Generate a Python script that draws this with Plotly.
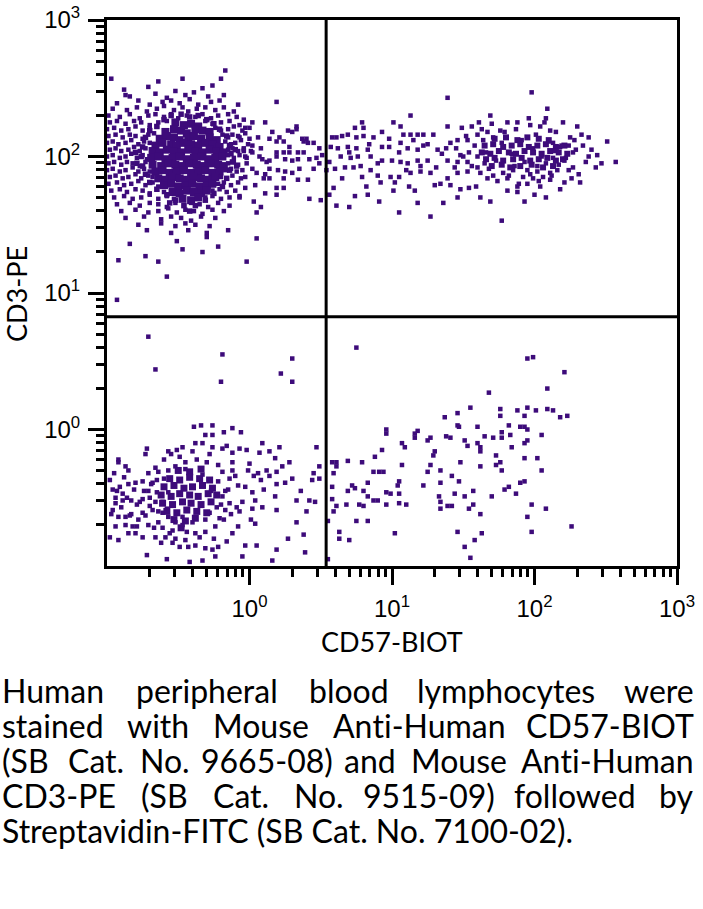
import plotly.graph_objects as go

# ---------------- DATA (log10 of fluorescence intensity: (CD57-BIOT, CD3-PE)) ----------------
# Upper-left population (CD3+ CD57-), dense core
ul_core = [(-0.52,2.25),(-0.46,2.23),(-0.41,2.24),(-0.36,2.22),
 (-0.59,2.18),(-0.53,2.20),(-0.48,2.19),(-0.44,2.17),(-0.38,2.20),(-0.33,2.19),(-0.28,2.18),
 (-0.63,2.13),(-0.58,2.15),(-0.53,2.14),(-0.49,2.12),(-0.43,2.14),(-0.39,2.15),(-0.34,2.13),(-0.28,2.14),(-0.23,2.12),
 (-0.66,2.08),(-0.61,2.10),(-0.55,2.09),(-0.51,2.08),(-0.46,2.10),(-0.41,2.09),(-0.36,2.08),(-0.31,2.10),(-0.26,2.09),(-0.21,2.07),
 (-0.68,2.04),(-0.63,2.03),(-0.58,2.05),(-0.53,2.04),(-0.48,2.03),(-0.43,2.05),(-0.38,2.04),(-0.33,2.03),(-0.28,2.05),(-0.23,2.04),(-0.18,2.03),
 (-0.69,1.99),(-0.64,2.00),(-0.59,1.98),(-0.54,1.99),(-0.49,2.00),(-0.44,1.98),(-0.39,1.99),(-0.34,2.00),(-0.29,1.98),(-0.24,1.99),(-0.19,2.00),
 (-0.68,1.94),(-0.62,1.93),(-0.57,1.95),(-0.52,1.94),(-0.47,1.93),(-0.42,1.95),(-0.37,1.94),(-0.32,1.93),(-0.27,1.95),(-0.22,1.94),(-0.18,1.93),
 (-0.66,1.89),(-0.61,1.90),(-0.56,1.88),(-0.51,1.89),(-0.46,1.90),(-0.41,1.88),(-0.36,1.89),(-0.31,1.90),(-0.26,1.88),(-0.21,1.89),
 (-0.64,1.84),(-0.59,1.83),(-0.54,1.85),(-0.49,1.84),(-0.44,1.83),(-0.39,1.85),(-0.34,1.84),(-0.29,1.83),(-0.24,1.85),
 (-0.60,1.79),(-0.55,1.80),(-0.50,1.78),(-0.45,1.79),(-0.40,1.80),(-0.35,1.78),(-0.30,1.79),(-0.26,1.80),
 (-0.54,1.74),(-0.49,1.73),(-0.44,1.75),(-0.39,1.74),(-0.34,1.73),(-0.30,1.75),
 (-0.47,1.69),(-0.41,1.68),(-0.36,1.70)]

# Upper-left population, ring of fairly dense events round the core
ul_inner = [(-0.55,2.30),(-0.48,2.31),(-0.42,2.29),(-0.36,2.30),(-0.30,2.27),(-0.60,2.27),(-0.25,2.24),(-0.65,2.22),
 (-0.16,2.15),(-0.14,2.08),(-0.13,2.02),(-0.12,1.96),(-0.14,1.90),(-0.16,1.84),(-0.19,1.78),(-0.21,2.20),(-0.10,2.05),(-0.09,1.93),
 (-0.73,2.14),(-0.75,2.07),(-0.76,2.00),(-0.75,1.93),(-0.73,1.87),(-0.70,1.81),(-0.80,2.03),(-0.79,1.95),(-0.70,2.19),
 (-0.65,1.76),(-0.58,1.72),(-0.52,1.68),(-0.46,1.64),(-0.38,1.64),(-0.31,1.68),(-0.25,1.73),(-0.42,1.60),(-0.56,1.66)]

# Upper-left population, surrounding events
ul_halo = [(-0.64,2.55),(-0.47,2.57),(-0.20,2.57),(-0.97,2.57),(-0.17,2.63),
 (-0.88,2.49),(-0.71,2.51),(-0.52,2.48),(-0.33,2.50),(-0.26,2.52),
 (-0.87,2.45),(-0.84,2.44),(-0.66,2.46),(-0.58,2.43),(-0.45,2.45),(-0.39,2.47),(-0.29,2.44),(-0.18,2.45),
 (-0.93,2.39),(-0.78,2.41),(-0.70,2.38),(-0.61,2.40),(-0.55,2.41),(-0.49,2.39),(-0.42,2.42),(-0.36,2.38),(-0.27,2.40),(-0.21,2.41),(-0.08,2.38),
 (-0.96,2.35),(-0.86,2.34),(-0.79,2.36),(-0.72,2.33),(-0.65,2.35),(-0.60,2.37),(-0.53,2.34),(-0.47,2.36),(-0.43,2.33),(-0.37,2.35),(-0.31,2.36),(-0.24,2.34),(-0.18,2.36),(-0.11,2.33),
 (-0.99,2.30),(-0.91,2.29),(-0.84,2.31),(-0.77,2.28),(-0.71,2.30),(-0.66,2.31),(-0.60,2.29),(-0.55,2.31),(-0.50,2.28),(-0.44,2.30),(-0.38,2.29),(-0.33,2.31),(-0.27,2.28),(-0.22,2.30),(-0.15,2.31),(-0.09,2.29),(-0.04,2.27),
 (-0.98,2.25),(-0.93,2.26),(-0.87,2.24),(-0.81,2.26),(-0.76,2.25),(-0.70,2.23),(-0.64,2.25),(-0.58,2.26),(-0.31,2.26),(-0.26,2.24),(-0.20,2.25),(-0.14,2.26),(-0.07,2.23),(0.02,2.25),
 (-1.00,2.20),(-0.95,2.21),(-0.90,2.19),(-0.85,2.20),(-0.80,2.22),(-0.75,2.19),(-0.70,2.21),(-0.65,2.22),(-0.24,2.21),(-0.20,2.19),(-0.15,2.20),(-0.11,2.22),(-0.05,2.19),(0.00,2.21),
 (-0.99,2.15),(-0.94,2.16),(-0.89,2.14),(-0.84,2.16),(-0.80,2.15),(-0.75,2.13),(-0.71,2.16),(-0.67,2.17),(-0.19,2.16),(-0.15,2.14),(-0.12,2.16),(-0.08,2.15),(-0.03,2.17),
 (-1.00,2.10),(-0.96,2.11),(-0.92,2.09),(-0.87,2.10),(-0.83,2.12),(-0.78,2.09),(-0.74,2.11),(-0.70,2.10),(-0.17,2.11),(-0.13,2.09),(-0.10,2.10),(-0.06,2.12),(-0.01,2.09),
 (-0.98,2.05),(-0.94,2.06),(-0.90,2.04),(-0.85,2.05),(-0.81,2.07),(-0.77,2.04),(-0.73,2.06),(-0.15,2.05),(-0.12,2.06),(-0.08,2.04),(-0.04,2.06),(0.01,2.04),
 (-1.00,2.00),(-0.96,2.01),(-0.91,1.99),(-0.87,2.00),(-0.83,2.02),(-0.79,1.99),(-0.75,2.01),(-0.72,1.98),(-0.15,2.01),(-0.11,1.99),(-0.07,2.01),(-0.03,2.00),
 (-0.99,1.95),(-0.95,1.96),(-0.90,1.94),(-0.86,1.96),(-0.82,1.95),(-0.77,1.93),(-0.73,1.96),(-0.15,1.95),(-0.11,1.96),(-0.08,1.94),(-0.02,1.95),
 (-1.00,1.90),(-0.96,1.91),(-0.91,1.89),(-0.87,1.90),(-0.82,1.92),(-0.78,1.89),(-0.74,1.91),(-0.70,1.89),(-0.17,1.90),(-0.13,1.91),(-0.09,1.89),(-0.05,1.90),
 (-0.98,1.85),(-0.94,1.86),(-0.89,1.84),(-0.85,1.85),(-0.80,1.87),(-0.76,1.84),(-0.71,1.86),(-0.68,1.85),(-0.20,1.85),(-0.16,1.84),(-0.12,1.86),(-0.06,1.84),
 (-0.99,1.80),(-0.93,1.81),(-0.88,1.79),(-0.83,1.80),(-0.78,1.82),(-0.73,1.79),(-0.68,1.81),(-0.64,1.78),(-0.22,1.80),(-0.18,1.81),(-0.13,1.79),(-0.08,1.81),
 (-0.97,1.75),(-0.91,1.76),(-0.86,1.74),(-0.80,1.76),(-0.75,1.75),(-0.70,1.73),(-0.65,1.76),(-0.60,1.74),(-0.26,1.75),(-0.21,1.76),(-0.16,1.74),(-0.10,1.75),
 (-0.95,1.70),(-0.88,1.71),(-0.82,1.69),(-0.76,1.70),(-0.70,1.72),(-0.64,1.69),(-0.58,1.71),(-0.53,1.69),(-0.31,1.70),(-0.26,1.71),(-0.20,1.69),(-0.14,1.70),(-0.07,1.71),
 (-0.93,1.65),(-0.84,1.66),(-0.77,1.64),(-0.70,1.66),(-0.64,1.65),(-0.58,1.63),(-0.52,1.66),(-0.46,1.64),(-0.41,1.66),(-0.35,1.65),(-0.29,1.63),(-0.22,1.66),(-0.14,1.64),
 (-0.90,1.60),(-0.80,1.61),(-0.71,1.59),(-0.64,1.60),(-0.57,1.62),(-0.51,1.59),(-0.45,1.61),(-0.39,1.60),(-0.33,1.58),(-0.26,1.61),(-0.18,1.60),
 (-0.87,1.55),(-0.74,1.56),(-0.62,1.54),(-0.55,1.56),(-0.48,1.55),(-0.41,1.53),(-0.34,1.56),(-0.24,1.55),
 (-0.78,1.50),(-0.62,1.51),(-0.52,1.49),(-0.45,1.51),(-0.38,1.50),(-0.28,1.49),
 (-0.72,1.46),(-0.55,1.44),(-0.43,1.46),(-0.30,1.44),(-0.15,1.46),
 (-0.58,1.12),(-0.92,1.24),(-0.73,1.27),(-0.64,1.23),(-0.47,1.32),(-0.33,1.30),(-0.22,1.34),(-0.02,1.23),
 (0.05,1.40),(-0.30,1.41),(-0.93,0.95),(-0.51,1.38),(-0.84,1.36)]

# Events between the two CD3+ populations
mid_band = [(0.19,2.40),(0.11,2.25),(-0.03,2.21),(-0.07,2.14),(0.00,2.13),(0.02,2.08),(-0.04,2.05),(0.02,2.03),
 (0.06,2.14),(0.14,2.13),(0.19,2.11),(0.21,2.14),(0.24,2.11),(0.27,2.19),(0.30,2.18),(0.33,2.22),(0.33,2.20),
 (0.37,2.13),(0.40,2.13),(0.41,2.10),(0.45,2.10),(0.38,2.11),(0.19,2.03),(0.24,2.03),(0.28,2.03),(0.34,2.03),
 (0.38,2.03),(0.07,2.00),(0.09,1.98),(0.12,1.96),(0.14,1.97),(-0.02,1.99),(-0.04,2.04),(0.19,2.00),(0.25,1.98),
 (0.30,1.97),(0.34,1.98),(0.42,1.98),(0.47,1.99),(0.49,2.06),(0.51,2.01),(0.49,1.95),(0.45,1.91),(0.35,1.91),
 (0.30,1.88),(0.25,1.89),(0.20,1.90),(0.14,1.91),(0.11,1.87),(0.14,1.84),(0.10,1.84),(0.24,1.84),(0.34,1.83),
 (0.41,1.83),(0.02,1.91),(0.05,1.88),(-0.03,1.85),(0.04,1.79),(-0.03,1.77),(0.19,1.77),(0.24,1.77),(0.11,1.73),
 (0.19,1.72),(0.03,1.67),(0.08,1.63),(0.05,1.59),(0.42,1.69),(0.50,1.68),(-0.07,1.70),(0.08,2.06),(0.16,2.18),(0.28,2.07)]

# Upper-right population (CD3+ CD57+)
ur_events = [(0.58,2.14),(0.61,2.14),(0.65,2.15),(0.69,2.16),(0.74,2.21),(0.79,2.25),(0.80,2.21),(0.75,2.14),
 (0.80,2.15),(0.87,2.14),(0.93,2.18),(1.01,2.25),(1.06,2.22),(1.13,2.30),(1.08,2.16),(1.13,2.16),(1.18,2.16),
 (1.22,2.16),(1.29,2.16),(1.39,2.43),(1.39,2.22),(1.49,2.21),(1.56,2.22),(1.61,2.25),(1.69,2.30),(1.98,2.47),
 (2.09,2.35),(2.08,2.28),(2.51,2.11),(2.57,1.96),(2.43,1.92),(2.38,2.00),(2.38,2.14),(2.32,1.81),(1.77,1.53),
 (1.05,1.59),(1.27,1.56),(0.61,1.64),(0.70,1.63),(0.91,1.67),(1.18,1.66),(1.36,1.66),(1.46,1.70),(1.69,1.67),
 (1.93,1.67),(2.08,1.70),(1.62,1.70),(0.56,1.72),(0.74,1.71),(0.83,1.72),(0.59,1.77),(0.82,1.78),(1.01,1.75),
 (1.12,1.78),(1.16,1.75),(0.92,1.81),(1.02,1.81),(1.34,1.80),(1.41,1.79),(1.54,1.77),(1.59,1.78),(1.81,1.75),
 (1.88,1.78),(1.95,1.80),(2.03,1.82),(2.11,1.83),(2.21,1.81),(2.26,1.84),(0.54,1.90),(0.60,1.91),(0.67,1.92),
 (0.73,1.92),(0.78,1.93),(0.85,1.90),(0.90,1.86),(0.99,1.85),(1.05,1.85),(1.13,1.88),(1.20,1.89),(1.27,1.88),
 (1.31,1.92),(1.39,1.84),(1.46,1.88),(1.53,1.89),(0.64,2.00),(0.71,1.99),(0.76,2.00),(0.85,2.00),(0.93,1.97),
 (1.00,1.97),(1.06,1.96),(1.11,1.95),(1.18,1.97),(1.25,1.97),(0.62,2.06),(0.69,2.07),(0.75,2.06),(0.83,2.05),
 (0.93,2.07),(0.98,2.07),(1.06,2.10),(1.11,2.06),(1.18,2.05),(1.22,2.08),(1.32,2.05),(1.38,2.06),(1.45,2.06),
 (1.48,2.01),(1.54,2.03),(1.60,2.00),(1.39,1.97),(1.46,1.96),(1.53,1.96),(1.60,1.92),(1.65,1.95),(1.46,2.12),
 (1.53,2.12),(1.60,2.16),(1.64,2.12),(1.67,2.18),(1.71,2.14),(1.76,2.19),(1.81,2.25),(1.88,2.25),(1.97,2.23),
 (2.04,2.22),(2.11,2.19),(2.20,2.25),(2.30,2.22),(2.33,2.16),(2.28,2.12),(2.24,2.08),(2.18,2.07),(2.13,2.10),
 (2.27,2.03),(2.21,1.97),(2.13,1.99),(2.16,1.90),(2.24,1.90),(2.11,1.88),(2.02,1.89),(1.95,1.90),(1.85,1.90),
 (1.78,1.88),(1.71,1.86),(1.67,1.84),(1.81,1.84),(1.92,1.85),(1.99,1.84),(2.06,1.85),
 (1.35,2.02),(1.41,2.10),(1.44,1.92),(1.50,2.00),(1.52,2.15),(1.56,1.93),(1.58,2.08),(1.62,1.88),(1.63,2.20),
 (1.66,2.03),(1.68,1.91),(1.70,2.24),(1.73,1.97),(1.74,1.82),(1.77,2.10),(1.79,2.18),(1.82,1.86),(1.84,2.02),
 (1.86,1.93),(1.87,2.20),(1.89,1.80),(1.91,2.12),(1.93,1.96),(1.96,2.28),(1.97,1.87),(1.99,2.06),(2.01,2.16),
 (2.02,1.93),(2.04,1.78),(2.05,2.00),(2.07,2.25),(2.08,1.95),(2.10,2.11),(2.12,1.86),(2.14,2.04),(2.15,2.18),
 (2.17,1.94),(2.19,2.08),(2.22,1.99),(2.25,2.14),(2.27,1.92),(2.29,2.05),(2.31,1.87),(2.34,2.08),(2.36,1.96),
 (2.40,2.05),(2.44,2.01),(2.47,1.95),(1.25,2.09),(1.20,1.93),(1.15,2.12),(1.10,1.90),(1.05,2.03),(0.98,2.13),
 (0.90,1.95),(0.84,2.09),(0.79,1.85),(0.70,2.03),(0.65,1.84),(0.57,2.07),(0.56,1.96),(1.30,1.79),(1.48,1.76),
 (1.88,1.74),(2.00,1.72),(2.18,1.76)]

# Upper-right population, dense core
ur_core = [(1.72,2.13),(1.80,2.14),(1.88,2.12),(1.95,2.14),(2.03,2.13),(2.10,2.12),
 (1.65,2.08),(1.71,2.09),(1.78,2.07),(1.84,2.08),(1.90,2.09),(1.96,2.07),(2.02,2.08),(2.08,2.09),(2.15,2.07),(2.21,2.08),
 (1.63,2.03),(1.69,2.02),(1.75,2.04),(1.82,2.03),(1.87,2.02),(1.93,2.04),(1.99,2.03),(2.05,2.02),(2.11,2.04),(2.17,2.03),(2.23,2.02),
 (1.66,1.98),(1.72,1.99),(1.78,1.97),(1.85,1.98),(1.91,1.99),(1.97,1.97),(2.03,1.98),(2.09,1.99),(2.15,1.97),(2.20,1.98),
 (1.70,1.93),(1.77,1.94),(1.83,1.92),(1.90,1.93),(1.98,1.94),(2.06,1.92),(2.13,1.93)]

# Lower-left population (CD3- CD57-)
ll_events = [(-0.39,0.02),(-0.34,0.03),(-0.26,0.03),(-0.12,0.01),(-0.06,-0.02),(-0.18,-0.02),(-0.31,-0.04),
 (-0.26,-0.04),(-0.38,-0.10),(-0.33,-0.10),(-0.47,-0.13),(-0.72,-0.14),(-0.57,-0.16),(-0.51,-0.15),(-0.73,-0.18),
 (-0.40,-0.16),(-0.26,-0.13),(-0.19,-0.14),(-0.16,-0.12),(-0.12,-0.17),(-0.07,-0.14),(-0.02,-0.15),(0.09,-0.10),
 (0.07,-0.17),(0.14,-0.16),(0.21,-0.13),(0.18,-0.21),(-0.92,-0.22),(-0.92,-0.24),(-0.87,-0.27),(-0.71,-0.32),
 (-0.85,-0.30),(-0.95,-0.32),(-0.64,-0.31),(0.00,-0.25),(0.06,-0.32),(0.12,-0.30),(0.19,-0.31),(0.03,-0.34),
 (0.08,-0.37),(0.14,-0.34),(0.19,-0.40),(0.23,-0.27),(-0.08,-0.41),(-0.03,-0.42),(0.02,-0.46),(0.04,-0.52),
 (0.18,-0.49),(0.09,-0.57),(0.02,-0.58),(0.19,-0.59),(0.01,-0.66),(-0.09,-0.57),(-0.07,-0.60),(-0.08,-0.71),
 (-0.18,-0.66),(-0.12,-0.76),(-0.16,-0.82),(-0.03,-0.85),(0.05,-0.85),(-0.05,-0.93),(0.19,-0.88),(0.16,-0.96),
 (-0.33,-0.96),(-0.42,-0.97),(-0.72,-0.92),(-0.26,-0.88),(-0.22,-0.86),(-0.31,-0.87),(-0.38,-0.85),(-0.45,-0.81),
 (-0.49,-0.86),(-0.54,-0.83),(-0.59,-0.79),(-0.66,-0.79),(-0.75,-0.79),(-0.80,-0.76),(-0.85,-0.76),(-0.92,-0.81),
 (-0.98,-0.79),(-0.94,-0.71),(-0.87,-0.70),(-0.82,-0.71),(-0.78,-0.66),(-0.71,-0.70),(-0.64,-0.68),(-0.61,-0.72),
 (-0.54,-0.74),(-0.92,-0.64),(-0.87,-0.64),(-0.84,-0.63),(-0.75,-0.61),(-0.68,-0.59),(-0.96,-0.59),(-0.94,-0.54),
 (-0.89,-0.52),(-0.83,-0.52),(-0.79,-0.55),(-0.75,-0.51),(-0.70,-0.50),(-0.65,-0.46),(-0.61,-0.53),(-0.96,-0.44),
 (-0.91,-0.42),(-0.85,-0.40),(-0.80,-0.39),(-0.75,-0.38),(-0.68,-0.39),(-0.94,-0.50),(-0.89,-0.47),(-0.71,-0.45),
 (-0.65,-0.37),(-0.60,-0.36),(-0.98,-0.37),(-0.66,-0.53),(-0.57,-0.46),(-0.19,-0.49),(-0.15,-0.44),(-0.14,-0.36),
 (-0.12,-0.30),(-0.19,-0.31),(-0.22,-0.26),(-0.12,-0.24),(-0.30,-0.24),(-0.45,-0.24),(-0.52,-0.27),(-0.57,-0.30),
 (-0.21,-0.65),(-0.24,-0.71),(-0.31,-0.75),(-0.38,-0.76),(-0.44,-0.75),(-0.47,-0.70),(-0.52,-0.68),(-0.57,-0.64),
 (-0.61,-0.61),(-0.28,-0.61),(-0.23,-0.57),(-0.17,-0.59),(-0.14,-0.54),
 (-0.71,0.68),(-0.66,0.44),(-0.19,0.55),(-0.20,0.35),(0.22,0.41),(0.30,0.52),(0.30,0.35),
 (0.47,-0.13),(0.49,-0.27),(0.45,-0.32),(0.44,-0.37),(0.46,-0.53),(0.42,-0.52),(0.33,-0.52),(0.30,-0.36),
 (0.25,-0.39),(0.33,-0.68),(0.38,-0.77),(0.39,-0.90),(0.27,-0.80),(-0.58,-0.95),(-0.24,-0.93),(0.49,-0.36),
 (-0.97,-0.62),(-0.93,-0.45),(-0.90,-0.57),(-0.88,-0.35),(-0.86,-0.50),(-0.83,-0.62),(-0.81,-0.44),(-0.79,-0.71),
 (-0.77,-0.53),(-0.74,-0.45),(-0.73,-0.63),(-0.70,-0.56),(-0.69,-0.40),(-0.67,-0.72),(-0.66,-0.28),(-0.64,-0.60),
 (-0.62,-0.83),(-0.60,-0.22),(-0.58,-0.58),(-0.56,-0.76),(-0.55,-0.18),(-0.52,-0.80),(-0.49,-0.20),(-0.47,-0.64),
 (-0.45,-0.29),(-0.43,-0.86),(-0.40,-0.68),(-0.37,-0.22),(-0.35,-0.79),(-0.33,-0.33),(-0.31,-0.66),(-0.28,-0.18),
 (-0.27,-0.45),(-0.25,-0.80),(-0.22,-0.38),(-0.20,-0.55),(-0.17,-0.45),(-0.13,-0.62),(-0.10,-0.34),(-0.05,-0.53),
 (-0.01,-0.30),(0.04,-0.69),(0.10,-0.44),(0.28,-0.24),(0.36,-0.45),(0.40,-0.60)]

# Lower-left population, dense core
ll_core = [(-0.50,-0.30),(-0.42,-0.31),(-0.34,-0.29),
 (-0.56,-0.36),(-0.49,-0.37),(-0.42,-0.35),(-0.35,-0.36),(-0.28,-0.37),
 (-0.60,-0.42),(-0.53,-0.41),(-0.46,-0.43),(-0.40,-0.42),(-0.33,-0.41),(-0.26,-0.43),
 (-0.62,-0.48),(-0.55,-0.49),(-0.49,-0.47),(-0.42,-0.48),(-0.36,-0.49),(-0.29,-0.47),(-0.23,-0.48),
 (-0.61,-0.54),(-0.54,-0.55),(-0.47,-0.53),(-0.41,-0.54),(-0.34,-0.55),(-0.27,-0.53),
 (-0.58,-0.60),(-0.51,-0.61),(-0.44,-0.59),(-0.37,-0.60),(-0.30,-0.61),
 (-0.53,-0.66),(-0.45,-0.67),(-0.38,-0.65),(-0.48,-0.72)]

# Lower-right population (CD3- CD57+)
lr_events = [(0.75,0.60),(1.95,0.52),(1.99,0.53),(2.21,0.42),(2.09,0.30),(1.68,0.27),(1.55,0.16),(1.76,0.15),
 (1.76,0.10),(1.88,0.14),(1.95,0.16),(2.09,0.15),(2.13,0.14),(2.18,0.09),(2.23,0.10),(2.01,0.14),(1.93,0.10),
 (1.46,0.12),(1.37,0.09),(1.82,0.03),(1.90,0.02),(1.93,0.02),(1.95,0.00),(2.05,-0.04),(1.77,-0.02),(1.77,-0.06),
 (1.71,-0.06),(1.65,-0.05),(1.60,0.02),(1.46,0.03),(1.47,0.02),(1.38,-0.05),(1.41,-0.06),(1.51,-0.08),(1.53,-0.12),
 (1.60,-0.10),(1.62,-0.13),(1.62,-0.16),(1.95,-0.08),(1.93,-0.10),(1.84,-0.13),(2.02,-0.21),(2.05,-0.30),
 (1.93,-0.21),(1.93,-0.38),(1.90,-0.39),(1.87,-0.47),(1.82,-0.42),(1.79,-0.44),(1.76,-0.24),(1.73,-0.26),
 (1.77,-0.30),(1.73,-0.19),(1.62,-0.27),(1.48,-0.24),(1.47,-0.38),(1.57,-0.45),(1.51,-0.49),(1.57,-0.55),
 (1.54,-0.58),(1.62,-0.62),(1.70,-0.49),(1.44,-0.47),(1.42,-0.34),(1.39,-0.56),(1.42,-0.56),(1.34,-0.53),
 (1.34,-0.58),(1.33,-0.49),(1.34,-0.39),(1.34,-0.30),(1.27,-0.26),(1.25,-0.31),(1.29,-0.19),(1.30,-0.16),
 (1.27,-0.06),(1.25,-0.08),(1.16,-0.06),(1.18,-0.01),(1.16,-0.03),(1.07,-0.10),(1.09,-0.13),(1.07,-0.26),
 (1.05,-0.38),(1.04,-0.41),(1.05,-0.47),(1.10,-0.55),(1.05,-0.54),(0.99,-0.47),(0.96,-0.46),(0.96,-0.55),
 (1.02,-0.76),(1.22,-0.41),(0.96,0.00),(0.96,-0.03),(0.93,-0.15),(0.88,-0.20),(0.91,-0.31),(0.94,-0.31),
 (0.87,-0.31),(0.83,-0.39),(0.83,-0.49),(0.87,-0.52),(0.90,-0.52),(0.80,-0.45),(0.80,-0.56),(0.77,-0.55),
 (0.75,-0.67),(0.83,-0.67),(0.79,-0.24),(0.74,-0.43),(0.72,-0.41),(0.69,-0.23),(0.69,-0.45),(0.68,-0.55),
 (0.61,-0.56),(0.59,-0.60),(0.58,-0.51),(0.58,-0.42),(0.58,-0.24),(0.61,-0.24),(0.61,-0.27),(0.59,-0.32),
 (0.63,-0.75),(0.63,-0.80),(0.70,-0.81),(0.55,-0.67),(0.55,-0.95),(1.46,-0.75),(1.51,-0.86),(1.58,-0.81),
 (1.63,-0.76),(1.55,-0.94),(1.98,-0.55),(1.95,-0.64),(1.98,-0.75),(2.08,-0.58),(2.26,-0.71),(1.83,-0.04)]

# Quadrant gate positions (linear units)
cd57_gate = 3.45
cd3_gate = 6.7

# Axis ticks
major_ticks = [1, 10, 100, 1000]
major_labels = ["10<sup>0</sup>", "10<sup>1</sup>", "10<sup>2</sup>", "10<sup>3</sup>"]
minor_ticks = [k * 10 ** d for d in (-1, 0, 1, 2) for k in range(2, 10)]

x_title = "CD57-BIOT"
y_title = "CD3-PE"
caption_lines = [
    "Human peripheral blood lymphocytes were",
    "stained with Mouse Anti-Human CD57-BIOT",
    "(SB Cat. No. 9665-08) and Mouse Anti-Human",
    "CD3-PE (SB Cat. No. 9515-09) followed by",
    "Streptavidin-FITC (SB Cat. No. 7100-02).",
]

# ---------------- FIGURE ----------------
W, H = 703, 909
L, R, T, B = 107, 677, 20, 566
PURPLE = "#3d0b7a"
TXT_FONT = "Lato, 'Open Sans', sans-serif"
TICK_FONT = "'Liberation Sans', Arial, sans-serif"
CAP_SIZE = 32

# estimated word centre positions (px) for the justified caption lines 1-4
word_centres = [
    [None, 207, 349, 506, None],
    [None, 158, 261, 419, None],
    [None, 96, 165, 267, 370, 459, None],
    [None, 164, 241, 319, 429, 575, None],
]


def px_x(px):
    return (px - L) / (R - L)


def px_y(py):
    return (B - py) / (B - T)


def lin(v):
    return 10 ** v


def no_lig(word):
    # a tiny letter-spacing on the "t" stops the browser from forming the t-i ligature
    return word.replace("ti", "<span style='letter-spacing:0.01px'>t</span>i")


fig = go.Figure()


def add_points(pairs, size):
    fig.add_trace(go.Scatter(
        x=[lin(p[0]) for p in pairs], y=[lin(p[1]) for p in pairs],
        mode="markers",
        marker=dict(symbol="square", size=size, color=PURPLE, line=dict(width=0)),
        hoverinfo="skip", showlegend=False))


add_points(ul_core, 8)
add_points(ul_inner, 5.5)
add_points(ur_core, 6)
add_points(ll_core, 7)
for grp in (ul_halo, mid_band, ur_events, ll_events, lr_events):
    add_points(grp, 4.5)

# quadrant lines
fig.add_trace(go.Scatter(x=[cd57_gate, cd57_gate], y=[0.1, 1000], mode="lines",
                         line=dict(color="black", width=3), hoverinfo="skip", showlegend=False))
fig.add_trace(go.Scatter(x=[0.1, 1000], y=[cd3_gate, cd3_gate], mode="lines",
                         line=dict(color="black", width=3), hoverinfo="skip", showlegend=False))

axis_common = dict(
    type="log", range=[-1, 3], showline=True, linecolor="black", linewidth=3, mirror=True,
    showgrid=False, zeroline=False, automargin=False,
    ticks="outside", ticklen=16, tickwidth=3, tickcolor="black", ticklabelstandoff=3,
    tickmode="array", tickvals=major_ticks, ticktext=major_labels,
    tickfont=dict(family=TICK_FONT, size=24, color="black"),
    minor=dict(ticks="outside", ticklen=8, tickwidth=2.5, tickcolor="black",
               tickmode="array", tickvals=minor_ticks, showgrid=False),
)

fig.update_layout(
    width=W, height=H,
    margin=dict(l=L, r=W - R, t=T, b=H - B, pad=0, autoexpand=False),
    paper_bgcolor="white", plot_bgcolor="white",
    xaxis=axis_common, yaxis=axis_common,
    showlegend=False,
)

ann = []
ann.append(dict(text=x_title, x=px_x(392), y=px_y(641), xref="paper", yref="paper",
                xanchor="center", yanchor="middle", showarrow=False,
                font=dict(family=TXT_FONT, size=27, color="black")))
ann.append(dict(text=y_title, x=px_x(16), y=px_y(294), xref="paper", yref="paper",
                xanchor="center", yanchor="middle", showarrow=False, textangle=-90,
                font=dict(family=TXT_FONT, size=27, color="black")))

line_y = [690, 725, 760, 795, 830]
cap_font = dict(family=TXT_FONT, size=CAP_SIZE, color="black")
for i, (txt, yy) in enumerate(zip(caption_lines, line_y)):
    if i < len(word_centres):
        words = txt.split(" ")
        for j, (w, c) in enumerate(zip(words, word_centres[i])):
            if j == 0:
                xa, xp = "left", 0
            elif j == len(words) - 1:
                xa, xp = "right", 696
            else:
                xa, xp = "center", c
            ann.append(dict(text=no_lig(w), x=px_x(xp), y=px_y(yy), xref="paper", yref="paper",
                            xanchor=xa, yanchor="middle", showarrow=False, font=cap_font))
    else:
        ann.append(dict(text=no_lig(txt), x=px_x(0), y=px_y(yy), xref="paper", yref="paper",
                        xanchor="left", yanchor="middle", showarrow=False, font=cap_font))
fig.update_layout(annotations=ann)

# the page has a default 8px body margin; remove it so the figure fills the window exactly
fig.write_html("out.html", config={"displayModeBar": False},
               post_script="document.body.style.margin='0';")
